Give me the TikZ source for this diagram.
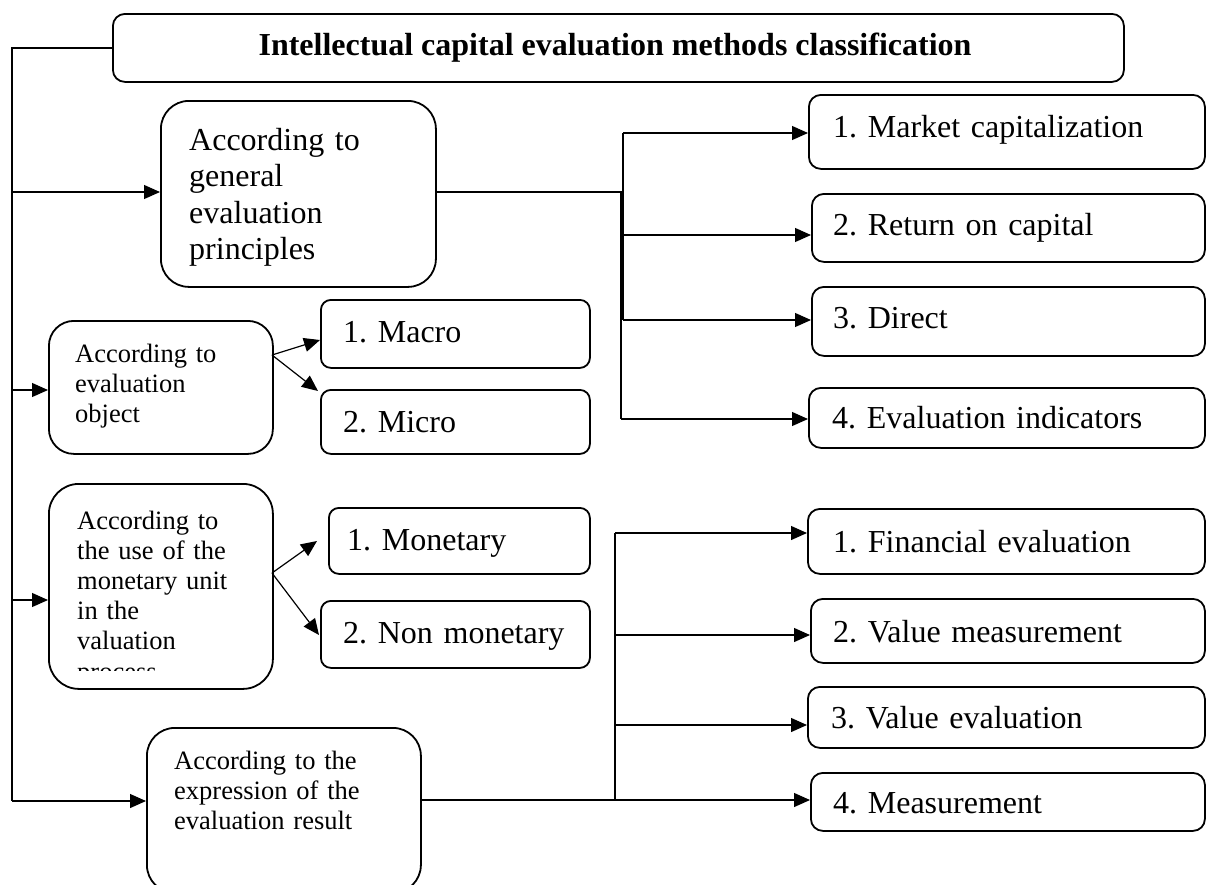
\documentclass[tikz,border=0pt]{standalone}
\usepackage{fontspec}
\setmainfont{Liberation Serif}
\usetikzlibrary{arrows.meta}
\frenchspacing

% box node from its top-left to its bottom-right corner (coordinates in px, y downwards)
\newcommand\mkbox[6][12pt]{%
  \node[box=#1, minimum width={(#5-#3)*1pt}, minimum height={(#6-#4)*1pt}] (#2) at (#3,#4) {};}

\begin{document}
\begin{tikzpicture}[x=1pt,y=-1pt,
  box/.style={draw, line width=1.8pt, rounded corners=#1, inner sep=0pt, anchor=north west},
  box/.default=12pt,
  link/.style={line width=1.2pt},
  arr/.style={link, -{Triangle[length=16pt,width=14pt]}},
  bigtxt/.style={anchor=base west, inner sep=0pt, align=left, text width=#1,
                 font=\fontsize{32}{36.5}\selectfont},
  bigtxt/.default=380pt,
  smalltxt/.style={anchor=base west, inner sep=0pt, align=left, text width=#1,
                   font=\fontsize{26.5}{30.2}\selectfont},
  smalltxt/.default=240pt]

\useasboundingbox (0,0) rectangle (1207,884);
\clip (0,0) rectangle (1207,884);

% ---------- boxes ----------
\mkbox{title}{112}{13}{1123}{81}
\mkbox[28pt]{A}{160}{100}{435}{286}
\mkbox[25pt]{B}{48}{320}{272}{453}
\mkbox[30pt]{C}{48}{483}{272}{688}
\mkbox[28pt]{D}{146}{727}{420}{892}

\mkbox[10pt]{macro}{320}{299}{589}{367}
\mkbox[10pt]{micro}{320}{389}{589}{453}
\mkbox[10pt]{mon}{328}{507}{589}{573}
\mkbox[10pt]{nonmon}{320}{600}{589}{667}

\mkbox{r1}{808}{94}{1204}{168}
\mkbox{r2}{811}{193}{1204}{261}
\mkbox{r3}{811}{286}{1204}{355}
\mkbox{r4}{808}{387}{1204}{447}

\mkbox{s1}{807}{508}{1204}{573}
\mkbox{s2}{810}{598}{1204}{662}
\mkbox{s3}{807}{686}{1204}{747}
\mkbox{s4}{810}{772}{1204}{830}

% ---------- texts ----------
\node[anchor=base, inner sep=0pt, font=\fontsize{32}{37}\selectfont\bfseries] (ttl) at (615,55)
  {Intellectual capital evaluation methods classification};

\node[bigtxt=240pt] (tA) at (189,150) {According to\\general\\evaluation\\principles};
\node[smalltxt=190pt] (tB) at (75,362) {According to\\evaluation\\object};
\begin{scope}
  % the last line only shows its upper edge
  \clip (50,485) rectangle (270,670.5);
  \node[smalltxt=190pt] (tC) at (77,529)
    {According to\\the use of the\\monetary unit\\in the\\valuation\\process};
\end{scope}
\node[smalltxt=240pt] (tD) at (174,769) {According to the\\expression of the\\evaluation result};

\node[bigtxt] (tmacro) at (343,342) {1. Macro};
\node[bigtxt] (tmicro) at (343,432) {2. Micro};
\node[bigtxt] (tmon) at (347,550) {1. Monetary};
\node[bigtxt] (tnon) at (343,643) {2. Non monetary};

\node[bigtxt] (tr1) at (833,137) {1. Market capitalization};
\node[bigtxt] (tr2) at (833,235) {2. Return on capital};
\node[bigtxt] (tr3) at (833,328) {3. Direct};
\node[bigtxt] (tr4) at (832,428) {4. Evaluation indicators};

\node[bigtxt] (ts1) at (833,552) {1. Financial evaluation};
\node[bigtxt] (ts2) at (833,642) {2. Value measurement};
\node[bigtxt] (ts3) at (831,728) {3. Value evaluation};
\node[bigtxt] (ts4) at (833,813) {4. Measurement};

% ---------- main trunk ----------
\coordinate (tTop) at (12,48);
\coordinate (tBot) at (12,801);
\coordinate (kA) at (12,192);  \coordinate (inA) at (160,192);
\coordinate (kB) at (12,390);  \coordinate (inB) at (48,390);
\coordinate (kC) at (12,600);  \coordinate (inC) at (48,600);
\coordinate (inD) at (146,801);

\draw[link] (title.west |- tTop) -- (tTop) -- (tBot);
\draw[arr] (kA) -- (inA);
\draw[arr] (kB) -- (inB);
\draw[arr] (kC) -- (inC);
\draw[arr] (tBot) -- (inD);

% ---------- upper right branch ----------
\coordinate (outA) at (435,192);
\coordinate (jA) at (623,192);
\coordinate (jA1) at (623,133);  \coordinate (inR1) at (808,133);
\coordinate (jA2) at (623,235);  \coordinate (inR2) at (811,235);
\coordinate (jA3) at (623,320);  \coordinate (inR3) at (811,320);
\coordinate (jB) at (621,192);
\coordinate (jA4) at (621,419);  \coordinate (inR4) at (808,419);

\draw[link] (outA) -- (jA);
\draw[link] (jA1) -- (jA3);
\draw[link] (jB) -- (jA4);
\draw[arr] (jA1) -- (inR1);
\draw[arr] (jA2) -- (inR2);
\draw[arr] (jA3) -- (inR3);
\draw[arr] (jA4) -- (inR4);

% ---------- lower right branch ----------
\coordinate (outD) at (420,800);
\coordinate (jD1) at (615,533);  \coordinate (inS1) at (807,533);
\coordinate (jD2) at (615,635);  \coordinate (inS2) at (810,635);
\coordinate (jD3) at (615,725);  \coordinate (inS3) at (807,725);
\coordinate (jD4) at (615,800);  \coordinate (inS4) at (810,800);

\draw[link] (outD) -- (jD4);
\draw[link] (jD1) -- (jD4);
\draw[arr] (jD1) -- (inS1);
\draw[arr] (jD2) -- (inS2);
\draw[arr] (jD3) -- (inS3);
\draw[arr] (jD4) -- (inS4);

% ---------- fan-out arrows ----------
\coordinate (outB) at (272,355);
\coordinate (inMacro) at (320,340);
\coordinate (inMicro) at (318,391);
\draw[arr] (outB) -- (inMacro);
\draw[arr] (outB) -- (inMicro);

\coordinate (outC) at (272,573);
\coordinate (inMon) at (317,541);
\coordinate (inNon) at (319,635);
\draw[arr] (outC) -- (inMon);
\draw[arr] (outC) -- (inNon);

\end{tikzpicture}
\end{document}
